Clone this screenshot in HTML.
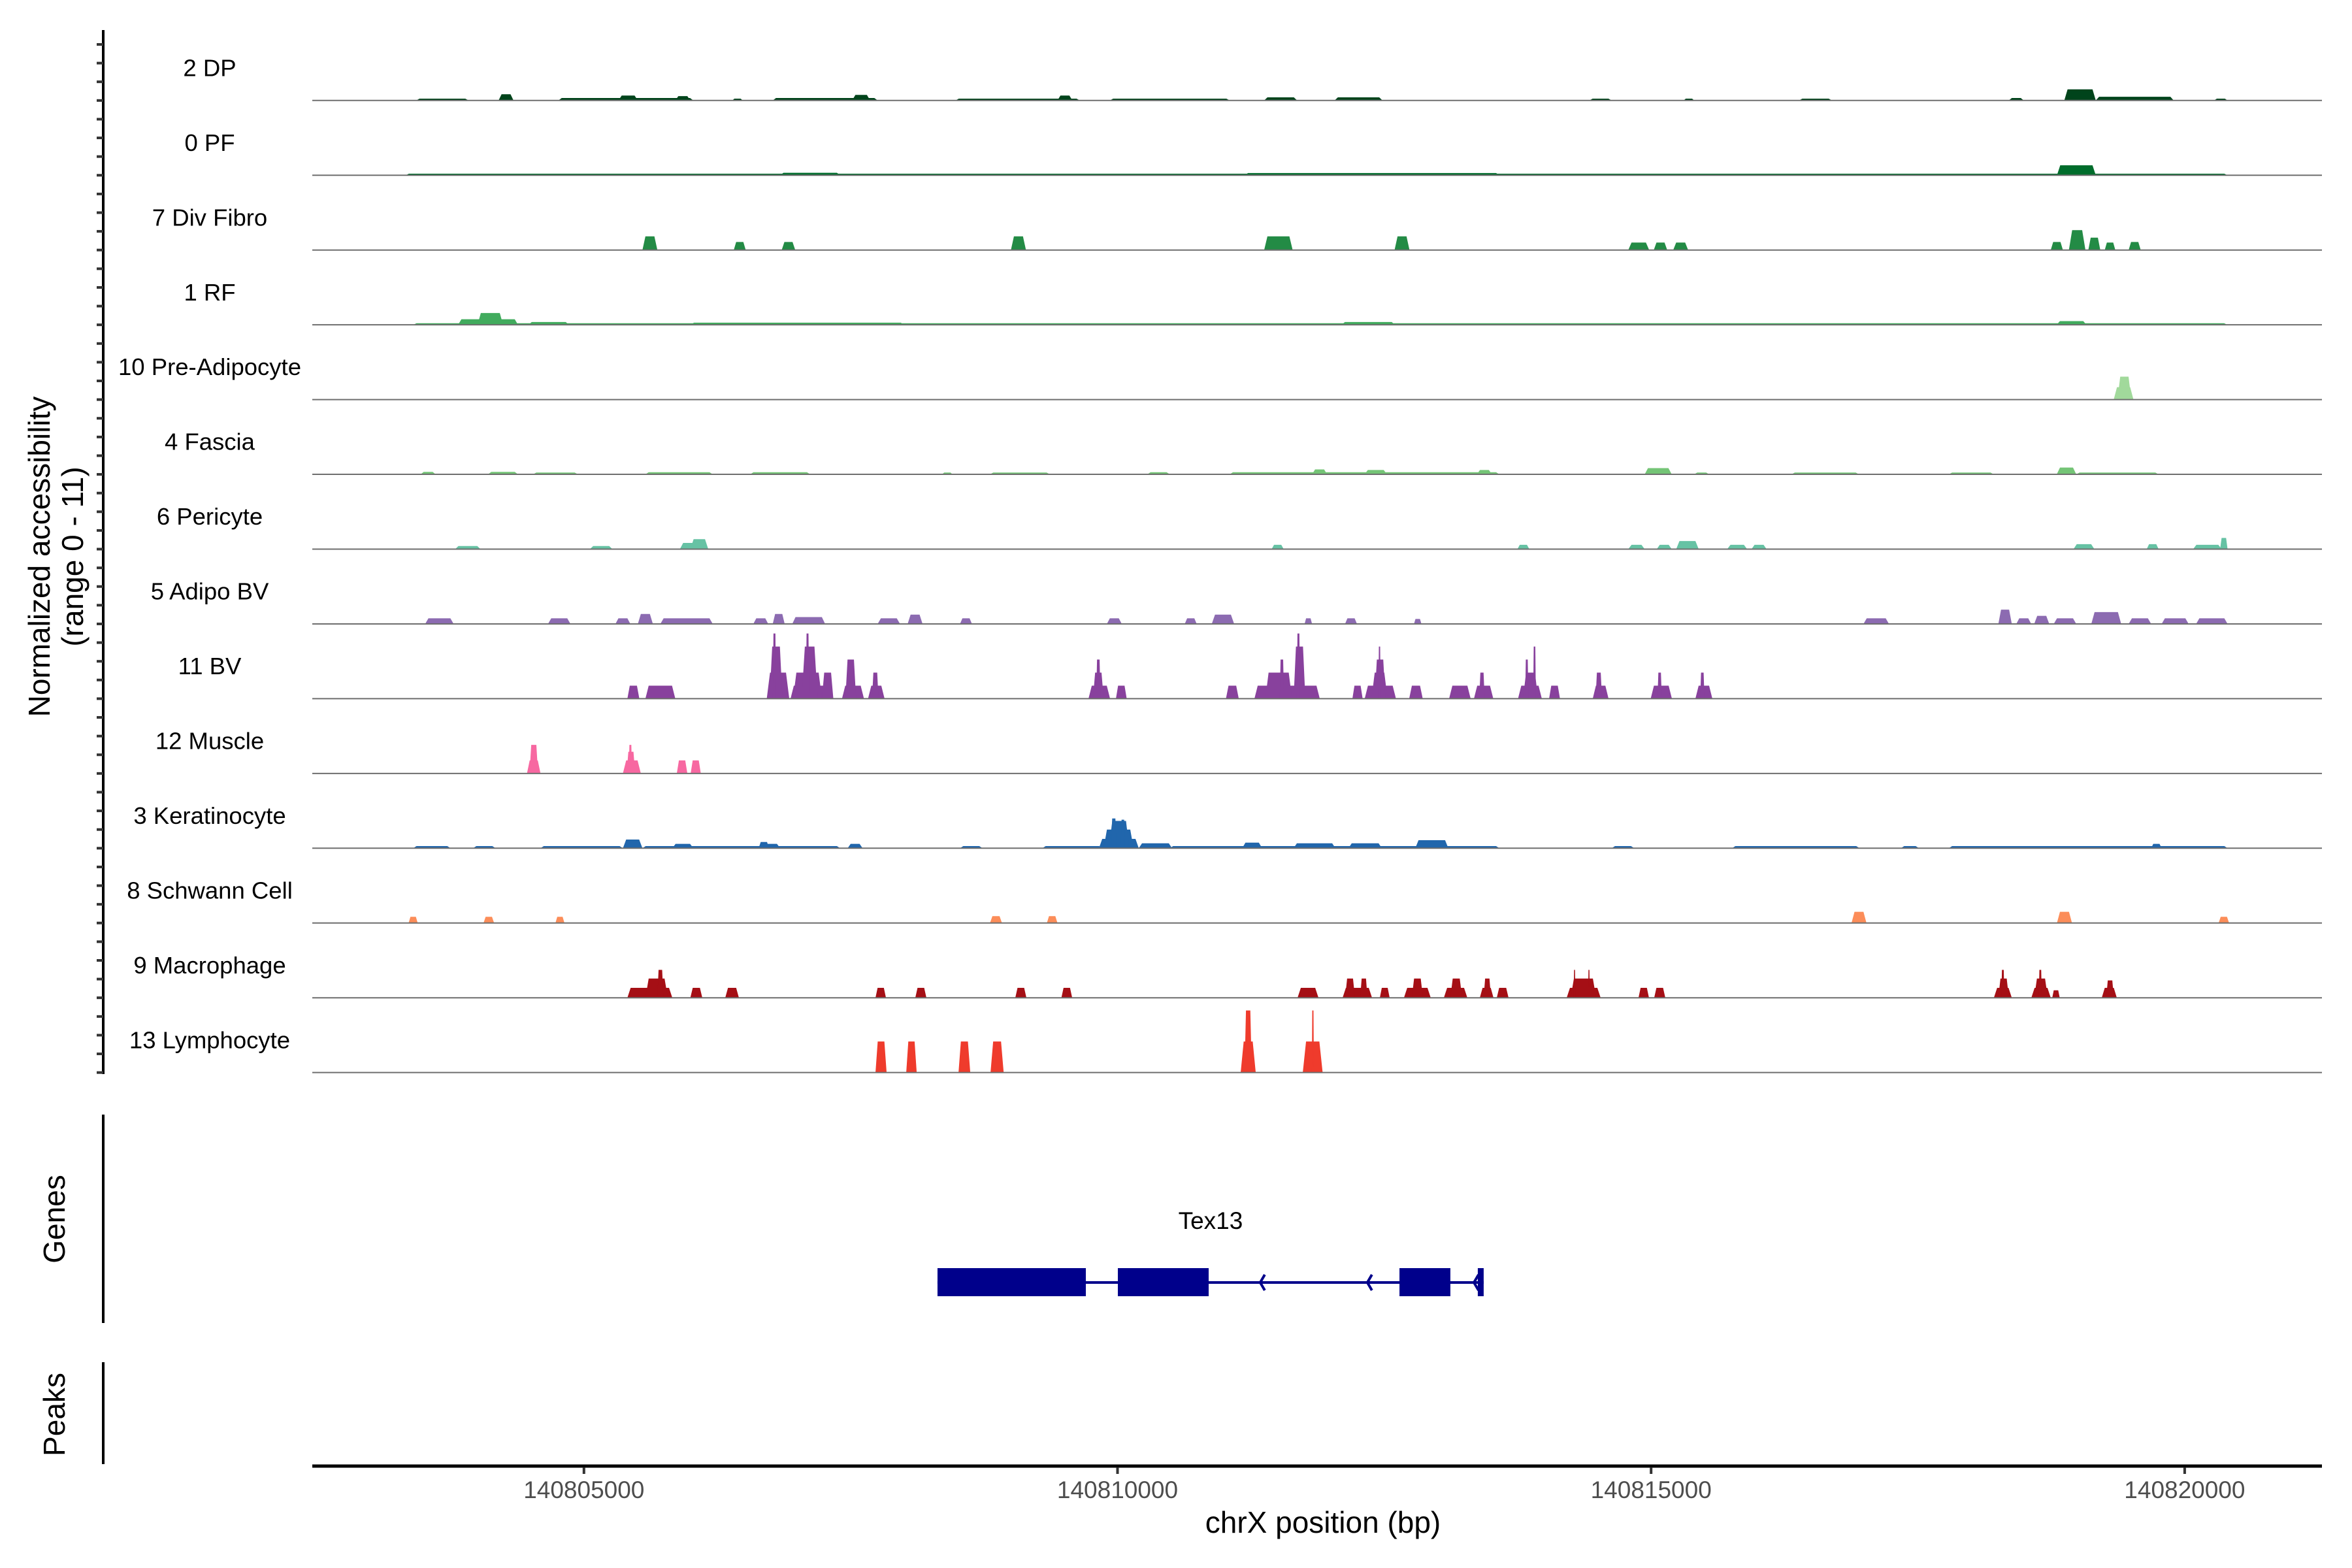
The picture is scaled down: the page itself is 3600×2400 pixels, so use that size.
<!DOCTYPE html>
<html><head><meta charset="utf-8">
<style>
html,body{margin:0;padding:0;background:#fff;}
svg{display:block;font-family:"Liberation Sans",Arial,sans-serif;}
</style></head>
<body>
<svg id="chart" width="3600" height="2400" viewBox="0 0 3600 2400" xmlns="http://www.w3.org/2000/svg">
<rect x="0" y="0" width="3600" height="2400" fill="#fff"/>
<g id="tracks"></g>
<g id="axes">
  <text x="64" y="852" font-size="46" text-anchor="middle" dominant-baseline="middle" transform="rotate(-90 64 852)">Normalized accessibility</text>
  <text x="115" y="852" font-size="46" text-anchor="middle" dominant-baseline="middle" transform="rotate(-90 115 852)">(range 0 - 11)</text>
  <line x1="158" y1="1706" x2="158" y2="2025" stroke="#000" stroke-width="4"/>
  <text x="87" y="1866" font-size="46" text-anchor="middle" dominant-baseline="middle" transform="rotate(-90 87 1866)">Genes</text>
  <line x1="158" y1="2085" x2="158" y2="2241" stroke="#000" stroke-width="4"/>
  <text x="87" y="2165" font-size="46" text-anchor="middle" dominant-baseline="middle" transform="rotate(-90 87 2165)">Peaks</text>
  <line x1="478" y1="2244" x2="3554" y2="2244" stroke="#000" stroke-width="5"/>
  <text x="2025" y="2334" font-size="46" text-anchor="middle" dominant-baseline="middle">chrX position (bp)</text>
</g>
<g id="xticks"></g>
<g id="gene"></g>
</svg>
<script>
const trackNames = ["2 DP","0 PF","7 Div Fibro","1 RF","10 Pre-Adipocyte","4 Fascia","6 Pericyte","5 Adipo BV","11 BV","12 Muscle","3 Keratinocyte","8 Schwann Cell","9 Macrophage","13 Lymphocyte"];
const trackColors = ["#00441b","#006d2c","#238b45","#41ab5d","#a1d99b","#74c476","#66c2a4","#8c6bb1","#88419d","#f768a1","#2166ac","#fc8d59","#a50f15","#ef3b2c"];
const xTicks = [140805000,140810000,140815000,140820000];
const xTickLabels = ["140805000","140810000","140815000","140820000"];

const dpPeaks = [[140803428,140803919,.3],[140804200,140804340,1.0],[140804761,140806025,.4],[140805323,140805505,.8],[140805856,140805997,.7],[140806390,140806488,.3],[140806769,140807752,.4],[140807513,140807682,.9],[140808482,140809647,.3],[140809437,140809577,.8],[140809928,140811051,.3],[140811374,140811683,.5],[140812034,140812483,.5],[140814421,140814631,.3],[140815305,140815404,.3],[140816386,140816695,.3],[140818352,140818492,.4],[140818872,140819167,1.8],[140819167,140819897,.6],[140820276,140820402,.3]];
const pfPeaks = [[140803329,140820402,.25],[140818803,140819167,1.6],[140806839,140807401,.4],[140811192,140813578,.35]];
const divFibroPeaks = [[140805548,140805688,2.2],[140806404,140806516,1.3],[140806853,140806980,1.3],[140809001,140809142,2.2],[140811374,140811641,2.2],[140812596,140812736,2.2],[140814786,140814982,1.2],[140815025,140815151,1.2],[140815207,140815347,1.2],[140818745,140818859,1.3],[140818915,140819070,3.2],[140819097,140819209,2],[140819251,140819350,1.2],[140819475,140819588,1.3]];
const rfPeaks = [[140803400,140820400,.25],[140803821,140804382,.9],[140804003,140804242,1.9],[140804480,140804860,.45],[140806000,140808000,.35],[140812100,140812600,.45],[140818800,140819080,.6]];
const preAdipoPeaks = [[140819335,140819520,2.0],[140819370,140819500,3.7]];
const fasciaPeaks = [[140803470,140803610,.4],[140804101,140804382,.4],[140804523,140804944,.3],[140805576,140806207,.35],[140806558,140807120,.35],[140808356,140808454,.3],[140808805,140809366,.3],[140810279,140810490,.35],[140811051,140813578,.35],[140811823,140811964,.8],[140812315,140812525,.7],[140813368,140813508,.7],[140814940,140815193,1.0],[140815404,140815544,.3],[140816316,140816948,.3],[140817790,140818211,.3],[140818801,140818984,1.1],[140818984,140819756,.3]];
const pericytePeaks = [[140803793,140804031,.5],[140805056,140805267,.5],[140805899,140806165,1.0],[140805997,140806165,1.6],[140811444,140811557,.7],[140813747,140813859,.7],[140814786,140814940,.7],[140815053,140815193,.7],[140815235,140815446,1.3],[140815713,140815900,.7],[140815941,140816082,.7],[140818958,140819154,.8],[140819644,140819756,.8],[140820079,140820346,.7],[140820332,140820402,1.8]];
const adipoBvPeaks = [[140803512,140803779,.9],[140804663,140804874,.9],[140805295,140805435,.9],[140805505,140805646,1.6],[140805716,140806207,.9],[140806587,140806727,.9],[140806769,140806881,1.6],[140806952,140807260,1.1],[140807752,140807962,.9],[140808033,140808173,1.5],[140808524,140808636,.9],[140809900,140810040,.9],[140810630,140810742,.9],[140810883,140811093,1.5],[140811753,140811823,.9],[140812132,140812244,.9],[140812778,140812848,.8],[140816990,140817229,.9],[140818254,140818380,2.3],[140818422,140818562,.9],[140818590,140818731,1.3],[140818773,140818984,.9],[140819125,140819405,1.9],[140819475,140819686,.9],[140819784,140820037,.9],[140820107,140820402,.9]];
const bvPeaks = [[140805407,140805519,2.1],[140805576,140805856,2.1],[140806713,140806924,4.2],[140806740,140806860,8.4],[140806770,140806800,10.5],[140806936,140807337,2.1],[140806960,140807230,4.2],[140807040,140807190,8.4],[140807080,140807110,10.5],[140807230,140807337,4.2],[140807418,140807624,2.1],[140807450,140807550,6.3],[140807662,140807817,2.1],[140807700,140807760,4.2],[140809728,140809930,2.1],[140809770,140809870,4.2],[140809800,140809840,6.3],[140809985,140810086,2.1],[140811016,140811136,2.1],[140811283,140811895,2.1],[140811385,140811635,4.2],[140811520,140811560,6.3],[140811650,140811760,8.4],[140811680,140811710,10.5],[140812201,140812297,2.1],[140812316,140812609,2.1],[140812380,140812530,4.2],[140812410,140812510,6.3],[140812445,140812465,8.4],[140812733,140812860,2.1],[140813107,140813309,2.1],[140813340,140813521,2.1],[140813390,140813440,4.2],[140813753,140813976,2.1],[140813800,140813940,4.2],[140813820,140813850,6.3],[140813895,140813920,8.4],[140814044,140814146,2.1],[140814453,140814601,2.1],[140814480,140814540,4.2],[140814996,140815195,2.1],[140815060,140815100,4.2],[140815415,140815574,2.1],[140815460,140815500,4.2]];
const musclePeaks = [[140804466,140804593,2.1],[140804490,140804570,4.6],[140805365,140805533,2.1],[140805400,140805480,3.5],[140805420,140805450,4.6],[140805870,140805969,2.1],[140806000,140806095,2.1]];
const keratinocytePeaks = [[140803400,140803750,.35],[140803961,140804172,.35],[140804593,140805365,.35],[140805548,140807401,.35],[140808524,140808735,.35],[140809296,140809858,.35],[140810490,140813578,.35],[140814631,140814842,.35],[140815759,140816953,.35],[140817341,140817510,.35],[140817790,140820402,.35],[140805828,140806025,.7],[140806629,140806839,.7],[140807471,140807611,.7],[140819686,140819784,.7],[140805365,140805548,1.4],[140806637,140806735,1.0],[140809826,140810199,1.5],[140809870,140810150,3.0],[140809920,140810110,4.4],[140809940,140809990,4.8],[140810030,140810070,4.6],[140810199,140810511,.8],[140811168,140811355,.9],[140811650,140812042,.8],[140812164,140812477,.8],[140812790,140813100,1.3]];
const schwannPeaks = [[140803357,140803442,1],[140804059,140804158,1],[140804733,140804817,1],[140808805,140808917,1.1],[140809338,140809437,1.1],[140816878,140817018,1.8],[140818803,140818944,1.8],[140820318,140820416,1]];
const macrophagePeaks = [[140805407,140805828,1.6],[140805576,140805786,3.1],[140805688,140805744,4.5],[140805997,140806109,1.6],[140806324,140806452,1.6],[140807732,140807830,1.6],[140808105,140808209,1.6],[140809042,140809146,1.6],[140809474,140809575,1.6],[140811687,140811883,1.6],[140812109,140812385,1.6],[140812133,140812225,3.1],[140812274,140812342,3.1],[140812458,140812550,1.6],[140812684,140812935,1.6],[140812758,140812862,3.1],[140813058,140813278,1.6],[140813119,140813229,3.1],[140813395,140813523,1.6],[140813431,140813499,3.1],[140813554,140813664,1.6],[140814209,140814527,1.6],[140814246,140814485,3.1],[140814275,140814290,4.5],[140814410,140814425,4.5],[140814882,140814980,1.6],[140815029,140815133,1.6],[140818212,140818380,1.6],[140818254,140818352,3.1],[140818282,140818310,4.5],[140818563,140818745,1.6],[140818590,140818717,3.1],[140818633,140818661,4.5],[140818759,140818829,1.2],[140819223,140819364,1.6],[140819265,140819336,2.8]];
const lymphocytePeaks = [[140807732,140807836,5],[140808020,140808118,5],[140808510,140808620,5],[140808810,140808933,5],[140811154,140811295,5],[140811190,140811258,10],[140811736,140811922,5],[140811821,140811840,10]];

const geneExons = [[140808313,140809703],[140810003,140810854],[140812642,140813119],[140813376,140813431]];
const geneStart = 140808313;
const geneEnd = 140813431;
const geneArrows = [140811337,140812341,140813340];
const geneName = "Tex13";

const allPeaks = [dpPeaks,pfPeaks,divFibroPeaks,rfPeaks,preAdipoPeaks,fasciaPeaks,pericytePeaks,adipoBvPeaks,bvPeaks,musclePeaks,keratinocytePeaks,schwannPeaks,macrophagePeaks,lymphocytePeaks];

const NS = "http://www.w3.org/2000/svg";
const X0 = 478, X1 = 3554;
function xScale(bp){ return 1710.5 + (bp - 140810000) * 0.16334; }
function trackBase(i){ return 153.8 + i * 114.45; }
const UNIT = 9.5;
function yScale(i, v){ return trackBase(i) - v * UNIT; }
function mk(tag, attrs, parent){
  const el = document.createElementNS(NS, tag);
  for (const k in attrs) el.setAttribute(k, attrs[k]);
  parent.appendChild(el);
  return el;
}
const tracksG = document.getElementById('tracks');
const axesG = document.getElementById('axes');

const yl = mk('line', {x1:158, y1:46, x2:158, y2:1644, stroke:'#000', 'stroke-width':4}, axesG);


for (let i = 0; i < trackNames.length; i++){
  for (let k = 0; k < 4; k++){
    const y = trackBase(i) - k * 28.6;
    const t = mk('line', {x1:148, y1:y, x2:158, y2:y, stroke:'#333', 'stroke-width':4}, axesG);
    
    
  }
}

for (let i = 0; i < trackNames.length; i++){
  const g = mk('g', {}, tracksG);
  
  
  const base = trackBase(i);
  const lab = mk('text', {x:321, y:base - 47, 'font-size':36.5, 'text-anchor':'middle', 'dominant-baseline':'middle', fill:'#000'}, g);
  lab.textContent = trackNames[i];
  
  
  allPeaks[i].forEach(p => {
    const xa = xScale(p[0]), xb = xScale(p[1]);
    const w = xb - xa;
    const inset = Math.min(w * 0.2, 5);
    const yt = yScale(i, p[2]);
    const poly = mk('polygon', {points: `${xa},${base} ${xa+inset},${yt} ${xb-inset},${yt} ${xb},${base}`, fill: trackColors[i]}, g);
    
    
  });
  const bl = mk('line', {x1:X0, y1:base, x2:X1, y2:base, stroke:'#6e6e6e', 'stroke-width':2}, g);
  
  
}

const xt = document.getElementById('xticks');
xTicks.forEach((v, j) => {
  const x = xScale(v);
  const tk = mk('line', {x1:x, y1:2246, x2:x, y2:2256, stroke:'#333', 'stroke-width':4}, xt);
  
  
  const tl = mk('text', {x:x, y:2283, 'font-size':37, 'text-anchor':'middle', 'dominant-baseline':'middle', fill:'#4d4d4d'}, xt);
  tl.textContent = xTickLabels[j];
  
  
});

const gg = document.getElementById('gene');
const gy = 1963;
const gl = mk('line', {x1:xScale(geneStart), y1:gy, x2:xScale(geneEnd), y2:gy, stroke:'#00008b', 'stroke-width':4}, gg);


geneExons.forEach(e => {
  const r = mk('rect', {x:xScale(e[0]), y:1941, width:Math.max(xScale(e[1]) - xScale(e[0]), 8), height:43, fill:'#00008b'}, gg);
  
  
});
geneArrows.forEach(a => {
  const x = xScale(a);
  const ar = mk('polyline', {points:`${x+7},${gy-12} ${x},${gy} ${x+7},${gy+12}`, fill:'none', stroke:'#00008b', 'stroke-width':4}, gg);
  
  
});
const gn = mk('text', {x:(xScale(geneStart)+xScale(geneEnd))/2, y:1871, 'font-size':37, 'text-anchor':'middle', 'dominant-baseline':'middle'}, gg);
gn.textContent = geneName;


</script>
</body></html>
